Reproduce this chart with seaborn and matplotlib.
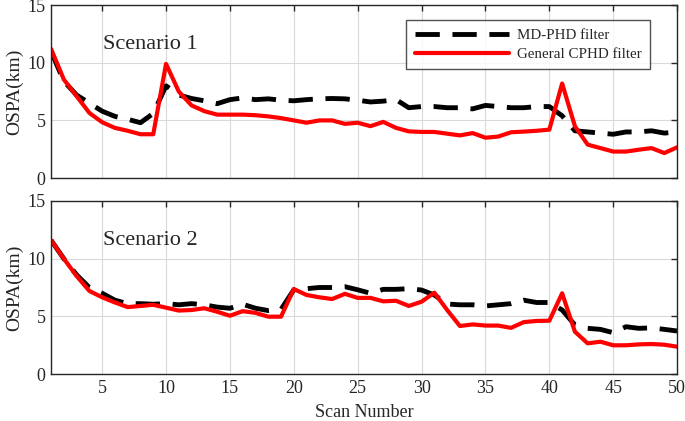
import numpy as np
import pandas as pd
import matplotlib
matplotlib.use("Agg")
import matplotlib.pyplot as plt
import seaborn as sns

scans = list(range(1, 51))

s1_mdphd = [11.0, 8.4, 7.2, 6.5, 5.8, 5.35, 5.1, 4.8, 5.6, 8.0,
            7.2, 6.9, 6.7, 6.45, 6.8, 6.95, 6.8, 6.87, 6.75, 6.7,
            6.8, 6.87, 6.9, 6.87, 6.75, 6.6, 6.67, 6.8, 6.1, 6.2,
            6.2, 6.1, 6.1, 6.0, 6.3, 6.2, 6.1, 6.1, 6.2, 6.2,
            5.4, 4.1, 4.0, 3.9, 3.8, 4.0, 4.0, 4.1, 3.9, 4.0]
s1_cphd = [11.2, 8.55, 7.1, 5.65, 4.84, 4.35, 4.1, 3.8, 3.8, 9.9,
           7.5, 6.3, 5.8, 5.5, 5.5, 5.5, 5.45, 5.35, 5.2, 5.0,
           4.8, 5.0, 5.0, 4.7, 4.8, 4.5, 4.87, 4.35, 4.05, 4.0,
           4.0, 3.85, 3.7, 3.9, 3.5, 3.6, 3.97, 4.03, 4.1, 4.2,
           8.2, 4.5, 2.9, 2.6, 2.3, 2.3, 2.46, 2.6, 2.17, 2.67]
s2_mdphd = [11.6, 10.0, 8.6, 7.5, 7.0, 6.4, 6.1, 6.1, 6.05, 6.1,
            6.0, 6.1, 6.0, 5.8, 5.7, 6.05, 5.7, 5.5, 5.6, 7.3,
            7.4, 7.5, 7.5, 7.57, 7.3, 7.0, 7.34, 7.34, 7.4, 7.28,
            6.85, 6.07, 6.0, 6.0, 5.9, 6.0, 6.1, 6.4, 6.2, 6.2,
            5.55, 4.25, 3.96, 3.87, 3.58, 4.1, 3.96, 4.0, 3.87, 3.73]
s2_cphd = [11.6, 10.0, 8.5, 7.2, 6.65, 6.2, 5.8, 5.9, 6.0, 5.75,
           5.5, 5.55, 5.7, 5.4, 5.05, 5.45, 5.3, 4.97, 4.97, 7.37,
           6.85, 6.65, 6.5, 6.95, 6.6, 6.6, 6.3, 6.35, 5.9, 6.27,
           7.05, 5.55, 4.16, 4.3, 4.2, 4.2, 4.0, 4.5, 4.6, 4.62,
           7.0, 3.67, 2.66, 2.8, 2.49, 2.49, 2.57, 2.6, 2.54, 2.37]

labels = ["MD-PHD filter", "General CPHD filter"]
scenario_titles = ["Scenario 1", "Scenario 2"]
y_ticks = [0, 5, 10, 15]
x_ticks = [5, 10, 15, 20, 25, 30, 35, 40, 45, 50]

sns.set_theme(style="white")
plt.rcParams['font.family'] = ['Liberation Serif', 'DejaVu Serif']
plt.rcParams['xtick.direction'] = 'in'
plt.rcParams['ytick.direction'] = 'in'

fig = plt.figure(figsize=(6.85, 4.21), dpi=100)
ax1 = fig.add_axes([0.0745, 0.577, 0.914, 0.411])
ax2 = fig.add_axes([0.0745, 0.1116, 0.914, 0.411])

data = [(s1_mdphd, s1_cphd), (s2_mdphd, s2_cphd)]
for i, (ax, (md, cp)) in enumerate(zip([ax1, ax2], data)):
    ax.grid(True, color='#d9d9d9', linewidth=0.8)
    ax.set_axisbelow(True)
    sns.lineplot(x=scans, y=md, ax=ax, color='black', linewidth=3.5,
                 label=labels[0] if i == 0 else None)
    ax.lines[-1].set_dashes((5, 2.6))
    sns.lineplot(x=scans, y=cp, ax=ax, color='#ff0000', linewidth=3,
                 label=labels[1] if i == 0 else None)
    ax.set_xlim(1, 50)
    ax.set_ylim(0, 15)
    ax.set_xticks(x_ticks)
    ax.set_yticks(y_ticks)
    ax.set_ylabel("OSPA(km)", fontsize=14, labelpad=3)
    ax.tick_params(axis='both', labelsize=13, length=4, width=1, colors='#262626',
                   top=True, right=True, pad=4)
    for sp in ax.spines.values():
        sp.set_color('#262626')
        sp.set_linewidth(1)
    ax.text(5.1, 11.6, scenario_titles[i], fontsize=16, va='center', ha='left')

ax1.set_xticklabels([])
ax1.set_xlabel("")
ax2.set_xlabel("Scan Number", fontsize=13, labelpad=5)

leg = ax1.legend(loc='upper right', bbox_to_anchor=(0.968, 0.955), fontsize=10.8,
                 frameon=True, fancybox=False, edgecolor='#262626',
                 handlelength=6.3, handletextpad=0.5, borderpad=0.55,
                 labelspacing=0.35)
leg.get_frame().set_linewidth(1)
if ax2.get_legend() is not None:
    ax2.get_legend().remove()

fig.savefig("out.png", dpi=100)
